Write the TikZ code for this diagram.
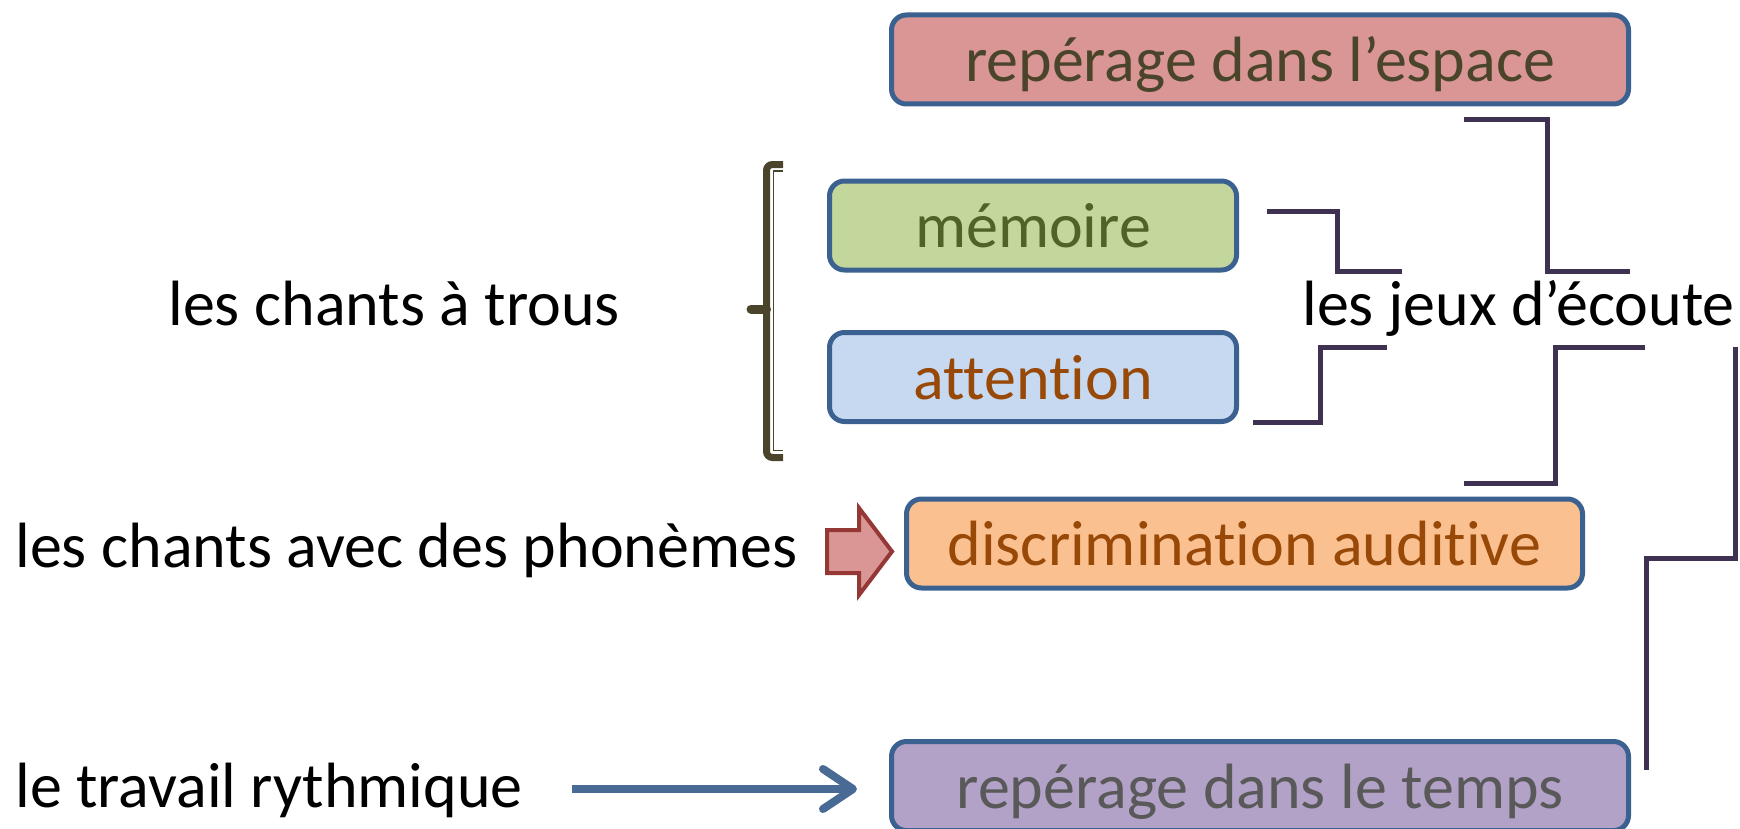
\documentclass[tikz,border=0pt]{standalone}
\usepackage{fontspec}
\setmainfont{Carlito}[Ligatures=NoCommon]
\usetikzlibrary{arrows.meta}

\definecolor{boxline}{HTML}{3A6190}
\definecolor{linkcol}{HTML}{3F3151}
\definecolor{bracecol}{HTML}{4A452A}
\definecolor{redfill}{HTML}{D99694}
\definecolor{greenfill}{HTML}{C3D69B}
\definecolor{bluefill}{HTML}{C6D9F1}
\definecolor{orangefill}{HTML}{FAC090}
\definecolor{purplefill}{HTML}{B3A2C7}
\definecolor{olivetext}{HTML}{4F6228}
\definecolor{rusttext}{HTML}{984807}
\definecolor{greytext}{HTML}{595959}
\definecolor{arrowred}{HTML}{953735}
\definecolor{arrowblue}{HTML}{4A6A96}

\tikzset{
  bigfont/.style={font=\fontsize{32}{38}\selectfont},
  box/.style={bigfont, draw=boxline, line width=2.5pt, rounded corners=7.5pt,
    minimum height=44.5pt, inner sep=0pt, text height=22pt, text depth=0pt},
  sidetext/.style={bigfont, anchor=base west, inner sep=0pt},
  link/.style={draw=linkcol, line width=2.5pt},
}

\begin{document}
\begin{tikzpicture}[x=0.5pt,y=-0.5pt]
\useasboundingbox (0,0) rectangle (1740,829);

% the five skills
\node[box, fill=redfill, text=bracecol, minimum width=368.5pt] (espace) at (1260,59.5) {repérage dans l’espace};
\node[box, fill=greenfill, text=olivetext, minimum width=203.5pt] (memoire) at (1033,225.5) {mémoire};
\node[box, fill=bluefill, text=rusttext, minimum width=203.5pt] (attention) at (1033,377) {attention};
\node[box, fill=orangefill, text=rusttext, minimum width=338pt] (discrim) at (1244.5,543.5) {discrimination auditive};
\node[box, fill=purplefill, text=greytext, minimum width=368.5pt] (temps) at (1260,786) {repérage dans le temps};

% activities
\node[sidetext] (jeux) at (1302,325) {les jeux d’écoute};
\node[sidetext] (trous) at (168,325) {les chants à trous};
\node[sidetext] (phonemes) at (15,567) {les chants avec des phonèmes};
\node[sidetext] (rythme) at (15,807) {le travail rythmique};

% bracket round memoire and attention
\draw[bracecol, line width=3.5pt, rounded corners=3pt] (783,164.5) -- (766.5,164.5) -- (766.5,457.5) -- (783,457.5);
\draw[bracecol, line width=4.5pt, line cap=round] (766.5,309) -- (751,309);
\draw[bracecol, line width=0.8pt] (783,171) -- (773.5,171) -- (773.5,450.5) -- (783,450.5);

% steps around the central text
\coordinate (m1) at (1267,211);   \coordinate (m2) at (1402,271);
\coordinate (a1) at (1253,422);   \coordinate (a2) at (1387,347);
\coordinate (e1) at (1464,120);   \coordinate (e2) at (1630,271);
\coordinate (d1) at (1464,483);   \coordinate (d2) at (1645,347);
\coordinate (t1) at (1735,347);   \coordinate (t2) at (1646,770);
\draw[link] (m1) -| (1337,271) -- (m2);
\draw[link] (a1) -| (1320,347) -- (a2);
\draw[link] (e1) -| (1547,271) -- (e2);
\draw[link] (d1) -| (1555,347) -- (d2);
\draw[link] (t1) -- (1735,558) -| (t2);

% block arrow
\draw[arrowred, fill=redfill, line width=2pt, line join=miter]
  (827,530) -- (859,530) -- (859,508) -- (892,551.5) -- (859,595) -- (859,573) -- (827,573) -- cycle;

% rhythm arrow
\coordinate (r1) at (572,789);
\draw[arrowblue, line width=4pt, shorten >=16pt,
  -{Straight Barb[length=15pt, width=20pt, round]}] (r1) -- (temps.west |- r1);
\end{tikzpicture}
\end{document}
